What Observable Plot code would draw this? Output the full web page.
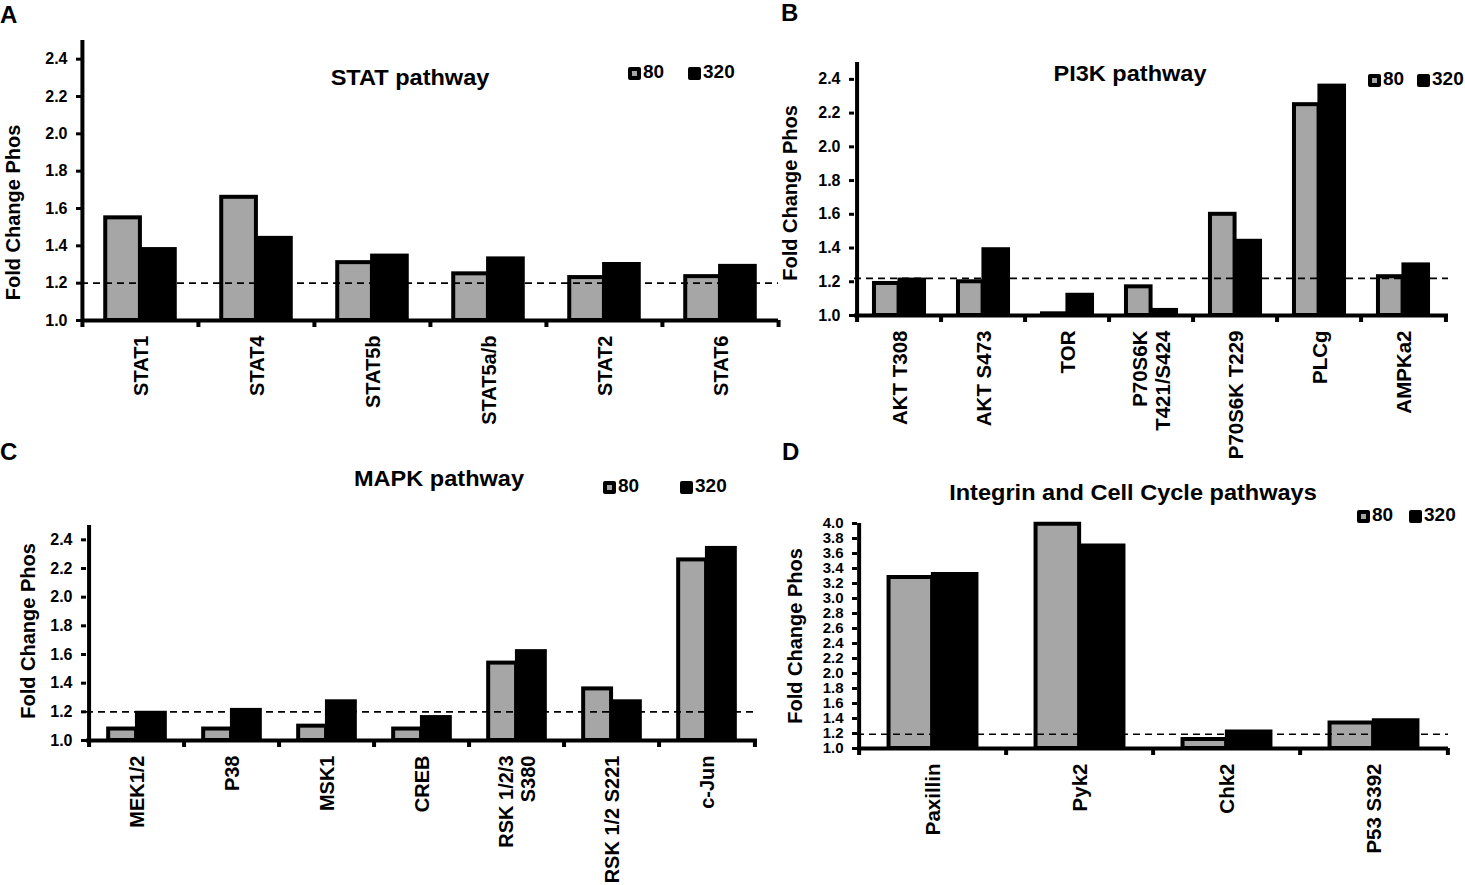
<!DOCTYPE html>
<html>
<head>
<meta charset="utf-8">
<script src="https://cdn.jsdelivr.net/npm/d3@7"></script>
<script src="https://cdn.jsdelivr.net/npm/@observablehq/plot@0.6"></script>
<style>
  html, body { margin: 0; padding: 0; background: #fff; }
  body { width: 1465px; height: 885px; position: relative; overflow: hidden;
         font-family: "Liberation Sans", Arial, Helvetica, sans-serif; font-weight: bold; color: #000; }
  .abs { position: absolute; line-height: 1; white-space: nowrap; }
  .panel svg { overflow: visible; }
  .title { font-size: 22px; transform: translateX(-50%) scaleX(1.07); }
  .letter { font-size: 24px; }
  .leg { display: flex; align-items: flex-end; font-size: 19px; }
  .leg .sw { display: inline-block; width: 13px; height: 13px; box-sizing: border-box;
             border: 4px solid #000; border-radius: 2px; margin-right: 2px; margin-bottom: 1px; }
</style>
</head>
<body>
<script>
// ---------- data ----------
const series = ["80", "320"];
const seriesColors = ["#a6a6a6", "#000000"];

const statCats = ["STAT1", "STAT4", "STAT5b", "STAT5a/b", "STAT2", "STAT6"];
const stat80 = [1.55, 1.66, 1.31, 1.25, 1.23, 1.235];
const stat320 = [1.38, 1.44, 1.345, 1.33, 1.30, 1.29];
const statThreshold = 1.2;

const pi3kCats = ["AKT T308", "AKT S473", "TOR", "P70S6K T421/S424", "P70S6K T229", "PLCg", "AMPKa2"];
const pi3kTickLabels = ["AKT T308", "AKT S473", "TOR", "P70S6K\nT421/S424", "P70S6K T229", "PLCg", "AMPKa2"];
const pi3k80 = [1.19, 1.20, 1.01, 1.17, 1.60, 2.25, 1.23];
const pi3k320 = [1.21, 1.39, 1.12, 1.03, 1.44, 2.36, 1.30];
const pi3kThreshold = 1.22;

const mapkCats = ["MEK1/2", "P38", "MSK1", "CREB", "RSK 1/2/3 S380", "RSK 1/2 S221", "c-Jun"];
const mapkTickLabels = ["MEK1/2", "P38", "MSK1", "CREB", "RSK 1/2/3\nS380", "RSK 1/2 S221", "c-Jun"];
const mapk80 = [1.08, 1.08, 1.10, 1.08, 1.54, 1.36, 2.26];
const mapk320 = [1.19, 1.21, 1.27, 1.16, 1.62, 1.27, 2.34];
const mapkThreshold = 1.2;

const intCats = ["Paxillin", "Pyk2", "Chk2", "P53 S392"];
const int80 = [3.28, 3.99, 1.12, 1.34];
const int320 = [3.32, 3.70, 1.22, 1.37];
const intThreshold = 1.19;

const ticksLow = [1.0, 1.2, 1.4, 1.6, 1.8, 2.0, 2.2, 2.4];
const ticksHigh = [1.0, 1.2, 1.4, 1.6, 1.8, 2.0, 2.2, 2.4, 2.6, 2.8, 3.0, 3.2, 3.4, 3.6, 3.8, 4.0];
const yLabel = "Fold Change Phos";

const FONT = '"Liberation Sans", Arial, Helvetica, sans-serif';

function makePanel(cfg) {
  const {cats, labels, v80, v320, yDomain, yTicks, threshold, width, height, ml, mr, mt, mb,
         tickFont, xFont, labDx, labDy} = cfg;
  const n = cats.length;
  const step = (width - ml - mr) / n;
  const rows80 = cats.map((c, i) => ({cat: c, v: v80[i], s: series[0]}));
  const rows320 = cats.map((c, i) => ({cat: c, v: v320[i], s: series[1]}));
  const lab = (d) => (labels ? labels[cats.indexOf(d)] : d);
  return Plot.plot({
    width, height, marginLeft: ml, marginRight: mr, marginTop: mt, marginBottom: mb,
    style: {fontFamily: FONT, fontWeight: "bold", color: "#000", background: "transparent", overflow: "visible"},
    x: {type: "band", domain: cats, paddingInner: 0, paddingOuter: 0, axis: null},
    y: {domain: yDomain, axis: null},
    color: {domain: series, range: seriesColors},
    marks: [
      Plot.barY(rows80, {x: "cat", y1: yDomain[0], y2: "v", fill: "s", stroke: "#000", strokeWidth: 4,
        insetLeft: 0.2 * step, insetRight: 0.5 * step}),
      Plot.barY(rows320, {x: "cat", y1: yDomain[0], y2: "v", fill: "s", stroke: "#000", strokeWidth: 4,
        insetLeft: 0.5 * step, insetRight: 0.2 * step}),
      Plot.ruleY([threshold], {stroke: "#000", strokeWidth: 1.7, strokeDasharray: "7,5"}),
      Plot.ruleY([yDomain[0]], {stroke: "#000", strokeWidth: 4}),
      Plot.ruleX([cats[0]], {stroke: "#000", strokeWidth: 4, dx: -step / 2}),
      Plot.axisY({ticks: yTicks, tickFormat: d3.format(".1f"), tickSize: 5, tickPadding: 9,
        strokeWidth: 3, fontSize: tickFont, label: null}),
      Plot.axisX({tickSize: 7, tickPadding: 0, strokeWidth: 4, tickFormat: () => "", dx: -step / 2, label: null}),
      Plot.axisX({ticks: [cats[n - 1]], tickSize: 7, tickPadding: 0, strokeWidth: 4, tickFormat: () => "", dx: step / 2, label: null}),
      Plot.axisX({tickSize: 0, tickPadding: 15, tickRotate: -90, fontSize: xFont, lineHeight: 1.1,
        tickFormat: lab, label: null}),
      Plot.text([yLabel], {text: (d) => d, frameAnchor: "left", textAnchor: "middle", rotate: -90,
        dx: labDx, dy: labDy, fontSize: 20})
    ]
  });
}

function place(node, left, top, cls) {
  const div = document.createElement("div");
  div.className = "abs " + (cls || "");
  div.style.left = left + "px";
  div.style.top = top + "px";
  div.append(node);
  document.body.append(div);
  return div;
}
function textDiv(txt, left, top, cls) {
  const d = document.createElement("div");
  d.textContent = txt;
  return place(d, left, top, cls);
}
function legend(lefts, top) {
  series.forEach((s, i) => {
    const item = document.createElement("div");
    item.className = "leg";
    const sw = document.createElement("span");
    sw.className = "sw";
    sw.style.background = seriesColors[i];
    const t = document.createElement("span");
    t.textContent = s;
    item.append(sw, t);
    place(item, lefts[i], top, "");
  });
}

// Panel A
place(makePanel({cats: statCats, v80: stat80, v320: stat320, yDomain: [1, 2.5], yTicks: ticksLow,
  threshold: statThreshold, width: 790, height: 440, ml: 81, mr: 12, mt: 40, mb: 120,
  tickFont: 16, xFont: 20, labDx: -68, labDy: 32}), 0, 0, "panel");
// Panel B
place(makePanel({cats: pi3kCats, labels: pi3kTickLabels, v80: pi3k80, v320: pi3k320, yDomain: [1, 2.5], yTicks: ticksLow,
  threshold: pi3kThreshold, width: 705, height: 440, ml: 94, mr: 17, mt: 62, mb: 125,
  tickFont: 16, xFont: 20.5, labDx: -64, labDy: 4}), 760, 0, "panel");
// Panel C
place(makePanel({cats: mapkCats, labels: mapkTickLabels, v80: mapk80, v320: mapk320, yDomain: [1, 2.5], yTicks: ticksLow,
  threshold: mapkThreshold, width: 770, height: 445, ml: 86, mr: 13, mt: 85, mb: 145,
  tickFont: 16, xFont: 20, labDx: -58, labDy: -2}), 0, 440, "panel");
// Panel D
place(makePanel({cats: intCats, v80: int80, v320: int320, yDomain: [1, 4], yTicks: ticksHigh,
  threshold: intThreshold, width: 705, height: 445, ml: 97, mr: 17, mt: 83, mb: 137,
  tickFont: 15, xFont: 20.5, labDx: -62, labDy: 0}), 760, 440, "panel");

// titles
textDiv("STAT pathway", 410, 67, "title");
textDiv("PI3K pathway", 1130, 63, "title");
textDiv("MAPK pathway", 439, 468, "title");
textDiv("Integrin and Cell Cycle pathways", 1133, 482, "title");
// letters
textDiv("A", 0, 3, "letter");
textDiv("B", 781, 1, "letter");
textDiv("C", 0, 440, "letter");
textDiv("D", 782, 440, "letter");
// legends
legend([628, 688], 62);
legend([1368, 1417], 69);
legend([603, 680], 476);
legend([1357, 1409], 505);
</script>
</body>
</html>
